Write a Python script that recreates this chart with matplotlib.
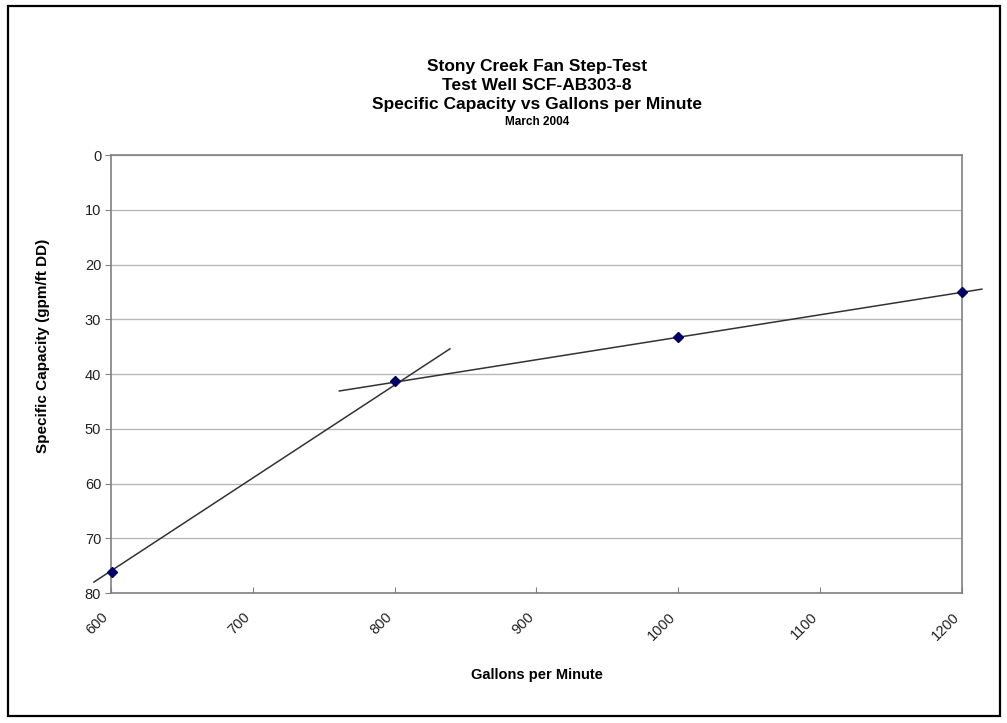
import matplotlib
matplotlib.use("Agg")
import matplotlib.pyplot as plt
from matplotlib.patches import Rectangle

plt.rcParams["font.family"] = ["Liberation Sans", "DejaVu Sans"]

# step-test measurements
gpm = [601, 800, 1000, 1200]
spec_cap = [76.1, 41.3, 33.2, 25.0]

# hand-drawn trend lines (endpoints)
steep_x = [588, 839]
steep_y = [78.0, 35.4]
flat_x = [761, 1214]
flat_y = [43.1, 24.5]

title_lines = ["Stony Creek Fan Step-Test", "Test Well SCF-AB303-8",
               "Specific Capacity vs Gallons per Minute"]
subtitle = "March 2004"

fig = plt.figure(figsize=(10.07, 7.23), dpi=100)
fig.patches.append(Rectangle((0.008, 0.009), 0.985, 0.983, transform=fig.transFigure,
                             fill=False, ec="black", lw=1.6))
ax = fig.add_axes([0.1102, 0.1798, 0.8451, 0.6058])

ax.plot(steep_x, steep_y, color="#333333", lw=1.1, clip_on=False, zorder=3)
ax.plot(flat_x, flat_y, color="#333333", lw=1.1, clip_on=False, zorder=3)
ax.plot(gpm, spec_cap, ls="none", marker="D", ms=5, color="#000066",
        clip_on=False, zorder=4)

ax.set_xlim(600, 1200)
ax.set_ylim(80, 0)
ax.set_xticks(range(600, 1201, 100))
ax.set_yticks(range(0, 81, 10))
ax.yaxis.grid(True, color="#b8b8b8", lw=1.0)
ax.set_axisbelow(True)
for s in ax.spines.values():
    s.set_color("#808080")
    s.set_linewidth(1.2)
ax.tick_params(axis="y", direction="out", length=4, color="#808080",
               labelsize=10.5, labelcolor="#222222", pad=3)
ax.tick_params(axis="x", direction="in", length=4, color="#808080",
               labelsize=10.5, labelcolor="#222222", pad=12)
for lab in ax.get_xticklabels():
    lab.set_rotation(45)
    lab.set_ha("right")

ax.set_xlabel("Gallons per Minute", fontsize=10.5, fontweight="bold")
ax.xaxis.set_label_coords(0.5, -0.172)
ax.set_ylabel("Specific Capacity (gpm/ft DD)", fontsize=11, fontweight="bold")
ax.yaxis.set_label_coords(-0.072, 0.564)

for i, t in enumerate(title_lines):
    fig.text(0.5335, 1 - (67 + 18.5 * i) / 723, t, ha="center", va="center",
             fontsize=12.5, fontweight="bold")
fig.text(0.5335, 1 - 122 / 723, subtitle, ha="center", va="center",
         fontsize=8.5, fontweight="bold")

fig.savefig("out.png", dpi=100)
